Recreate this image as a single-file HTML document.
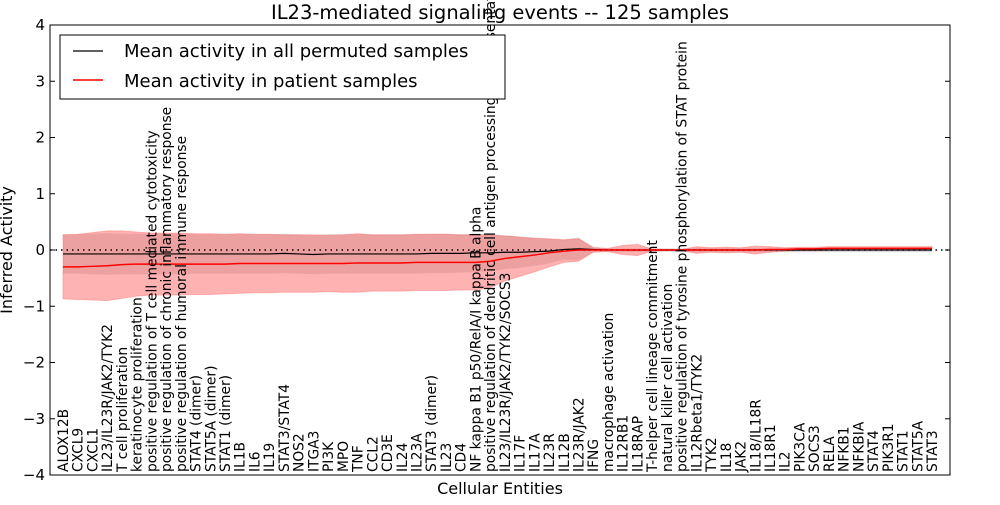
<!DOCTYPE html>
<html><head><meta charset="utf-8"><style>
body{margin:0;background:#fff;}
svg text{font-family:"DejaVu Sans","Liberation Sans",sans-serif;}
</style></head><body>
<svg id="c" width="1000" height="500" xmlns="http://www.w3.org/2000/svg">
<rect x="0" y="0" width="1000" height="500" fill="#fff"/>
<text x="500" y="19" text-anchor="middle" font-size="19.5">IL23-mediated signaling events -- 125 samples</text>
<g id="plot"></g>
</svg>
<script>
const categories=["ALOX12B","CXCL9","CXCL1","IL23/IL23R/JAK2/TYK2","T cell proliferation","keratinocyte proliferation","positive regulation of T cell mediated cytotoxicity","positive regulation of chronic inflammatory response","positive regulation of humoral immune response","STAT4 (dimer)","STAT5A (dimer)","STAT1 (dimer)","IL1B","IL6","IL19","STAT3/STAT4","NOS2","ITGA3","PI3K","MPO","TNF","CCL2","CD3E","IL24","IL23A","STAT3 (dimer)","IL23","CD4","NF kappa B1 p50/RelA/I kappa B alpha","positive regulation of dendritic cell antigen processing and presentation","IL23/IL23R/JAK2/TYK2/SOCS3","IL17F","IL17A","IL23R","IL12B","IL23R/JAK2","IFNG","macrophage activation","IL12RB1","IL18RAP","T-helper cell lineage commitment","natural killer cell activation","positive regulation of tyrosine phosphorylation of STAT protein","IL12Rbeta1/TYK2","TYK2","IL18","JAK2","IL18/IL18R","IL18R1","IL2","PIK3CA","SOCS3","RELA","NFKB1","NFKBIA","STAT4","PIK3R1","STAT1","STAT5A","STAT3"];
const permMean=[-0.07,-0.07,-0.07,-0.07,-0.07,-0.07,-0.07,-0.07,-0.07,-0.07,-0.07,-0.07,-0.07,-0.07,-0.07,-0.06,-0.07,-0.08,-0.07,-0.07,-0.07,-0.07,-0.07,-0.07,-0.07,-0.06,-0.06,-0.06,-0.05,-0.05,-0.04,-0.04,-0.03,-0.02,0.01,0.02,0.01,0,0,0,0,0,0,0,0,0,0,0,0,0,0,0,0,0,0,0,0,0,0,0];
const permSd=[0.35,0.35,0.36,0.37,0.36,0.36,0.36,0.36,0.36,0.35,0.35,0.35,0.35,0.35,0.35,0.35,0.35,0.35,0.35,0.35,0.35,0.35,0.35,0.35,0.35,0.35,0.35,0.34,0.34,0.33,0.3,0.28,0.25,0.22,0.18,0.2,0.05,0.03,0.03,0.03,0.03,0.03,0.03,0.04,0.04,0.04,0.04,0.04,0.04,0.04,0.04,0.04,0.04,0.04,0.04,0.04,0.04,0.04,0.04,0.04];
const patMean=[-0.3,-0.3,-0.29,-0.28,-0.26,-0.25,-0.25,-0.25,-0.25,-0.25,-0.25,-0.25,-0.24,-0.24,-0.24,-0.24,-0.24,-0.24,-0.24,-0.24,-0.23,-0.23,-0.23,-0.23,-0.22,-0.22,-0.22,-0.22,-0.22,-0.2,-0.15,-0.12,-0.09,-0.05,-0.02,0,0,0,0,0,0,0,0,0,0,0,0,0,0.01,0.01,0.02,0.02,0.03,0.03,0.03,0.03,0.03,0.03,0.03,0.03];
const patSd=[0.57,0.58,0.6,0.62,0.6,0.57,0.55,0.55,0.55,0.54,0.54,0.53,0.53,0.52,0.52,0.51,0.51,0.51,0.5,0.51,0.52,0.5,0.5,0.5,0.5,0.5,0.5,0.49,0.49,0.47,0.4,0.35,0.3,0.25,0.2,0.2,0.04,0.03,0.08,0.1,0.02,0.01,0.01,0.06,0.04,0.05,0.04,0.07,0.05,0.03,0.03,0.03,0.03,0.03,0.03,0.03,0.03,0.03,0.03,0.03];
const yTicks=[-4,-3,-2,-1,0,1,2,3,4];

const L=50,R=950,T=25,B=475,X0=63,X1=932;
const xs=i=>X0+i*(X1-X0)/(categories.length-1);
const ys=v=>T+(4-v)*(B-T)/8;
const NS="http://www.w3.org/2000/svg";
const g=document.getElementById('plot');
function mk(t,a){const e=document.createElementNS(NS,t);for(const k in a)e.setAttribute(k,a[k]);g.appendChild(e);return e;}
function band(m,s){let up=m.map((v,i)=>xs(i)+','+ys(v+s[i]));let dn=m.map((v,i)=>xs(i)+','+ys(v-s[i])).reverse();return up.concat(dn).join(' ');}
function line(m){return m.map((v,i)=>xs(i)+','+ys(v)).join(' ');}

let e=mk('polygon',{points:band(permMean,permSd),fill:'#b0b0b0','fill-opacity':0.45});


e=mk('polygon',{points:band(patMean,patSd),fill:'#ff6666','fill-opacity':0.5,stroke:'#ff6666','stroke-opacity':0.4});


e=mk('line',{x1:L,x2:R,y1:ys(0),y2:ys(0),stroke:'#000','stroke-dasharray':'1.5,4','stroke-width':1.5});


e=mk('polyline',{points:line(permMean),fill:'none',stroke:'#000','stroke-width':1.2});


e=mk('polyline',{points:line(patMean),fill:'none',stroke:'#f00','stroke-width':1.5});


e=mk('rect',{x:L,y:T,width:R-L,height:B-T,fill:'none',stroke:'#000'});



yTicks.forEach(v=>{
  let t=mk('line',{x1:L,x2:L+5,y1:ys(v),y2:ys(v),stroke:'#000'});
  
  
  t=mk('line',{x1:R-5,x2:R,y1:ys(v),y2:ys(v),stroke:'#000'});
  
  
  let tx=mk('text',{x:L-5,y:ys(v)+5,'text-anchor':'end','font-size':15});
  tx.textContent=v===0?'0':(v<0?'\u2212'+(-v):v);
  
  
});
categories.forEach((c,i)=>{
  const x=xs(i)+5,y=472;
  let tx=mk('text',{x:x,y:y,'font-size':13.8,transform:`rotate(-90 ${x} ${y})`});
  tx.textContent=c;
  
  
});
e=mk('text',{x:500,y:494,'text-anchor':'middle','font-size':16});
e.textContent='Cellular Entities';


e=mk('text',{x:12,y:250,'text-anchor':'middle','font-size':16,transform:'rotate(-90 12 250)'});
e.textContent='Inferred Activity';



e=mk('rect',{x:60,y:35,width:445,height:64,fill:'#fff',stroke:'#000'});


e=mk('line',{x1:73,x2:103,y1:51,y2:51,stroke:'#000','stroke-width':1.2});


e=mk('text',{x:124,y:57,'font-size':18});
e.textContent='Mean activity in all permuted samples';


e=mk('line',{x1:73,x2:103,y1:80,y2:80,stroke:'#f00','stroke-width':1.5});


e=mk('text',{x:124,y:87,'font-size':18});
e.textContent='Mean activity in patient samples';


</script>
</body></html>
